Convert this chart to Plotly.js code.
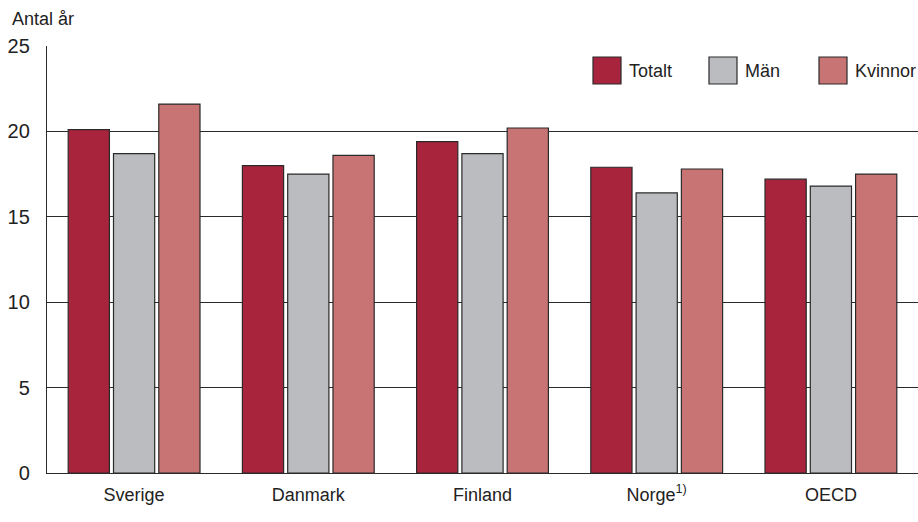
<!DOCTYPE html>
<html><head><meta charset="utf-8">
<script src="https://cdn.plot.ly/plotly-3.0.1.min.js"></script>
<style>html,body{margin:0;padding:0;background:#fff}#chart{width:918px;height:522px}</style>
</head><body><div id="chart"></div>
<script>
const categories = ["Sverige", "Danmark", "Finland", "Norge<sup>1)</sup>", "OECD"];
const seriesNames = ["Totalt", "Män", "Kvinnor"];
const totalt = [20.1, 18.0, 19.4, 17.9, 17.2];
const man = [18.7, 17.5, 18.7, 16.4, 16.8];
const kvinnor = [21.6, 18.6, 20.2, 17.8, 17.5];
const yTicks = [0, 5, 10, 15, 20, 25];
const colors = ["#a8243c", "#bbbcc0", "#c97474"];
const FONT = "'Liberation Sans Narrow', 'Arial Narrow', 'Liberation Sans', sans-serif";

const values = [totalt, man, kvinnor];
const traces = values.map((v, i) => ({
  type: "bar", x: categories, y: v, name: seriesNames[i],
  marker: {color: colors[i], line: {color: "#2a2a2a", width: 1.2}},
  showlegend: false, hoverinfo: "x+y+name"
}));

// custom legend with large swatches
const legX = [593, 709, 819];
const shapes = [], annotations = [];
seriesNames.forEach((n, i) => {
  shapes.push({type: "rect", xref: "paper", yref: "paper",
    x0: (legX[i] - 47) / 871, x1: (legX[i] + 28 - 47) / 871,
    y0: 1 - (84 - 46) / 427, y1: 1 - (57 - 46) / 427,
    fillcolor: colors[i], line: {color: "#2a2a2a", width: 1.2}});
  annotations.push({xref: "paper", yref: "paper", x: (legX[i] + 34 - 47) / 871,
    y: 1 - (71 - 46) / 427, xanchor: "left", yanchor: "middle", showarrow: false,
    text: n, font: {family: FONT, size: 18, color: "#222"}});
});
annotations.push({xref: "paper", yref: "paper", x: -37 / 871, y: 1 + 27 / 427,
  xanchor: "left", yanchor: "middle", showarrow: false, text: "Antal år",
  font: {family: FONT, size: 18, color: "#222"}});

const layout = {
  width: 918, height: 522,
  margin: {l: 47, r: 0, t: 46, b: 49},
  paper_bgcolor: "#fff", plot_bgcolor: "#fff",
  barmode: "group", bargap: 0.22, bargroupgap: 0.09,
  font: {family: FONT, size: 18, color: "#222"},
  xaxis: {type: "category", showline: true, linecolor: "#2a2a2a", linewidth: 1.2,
    ticks: "", showgrid: false, tickfont: {family: FONT, size: 18, color: "#222"},
    ticklabelstandoff: 5},
  yaxis: {range: [0, 25], tickvals: yTicks, ticktext: yTicks.map(String),
    showline: true, linecolor: "#2a2a2a", linewidth: 1.2, ticks: "",
    showgrid: true, gridcolor: "#2a2a2a", gridwidth: 1.2, zeroline: false,
    tickfont: {family: FONT, size: 20, color: "#222"}, ticklabelstandoff: 12},
  shapes: shapes, annotations: annotations
};
Plotly.newPlot("chart", traces, layout, {displayModeBar: false, staticPlot: true});
</script></body></html>
